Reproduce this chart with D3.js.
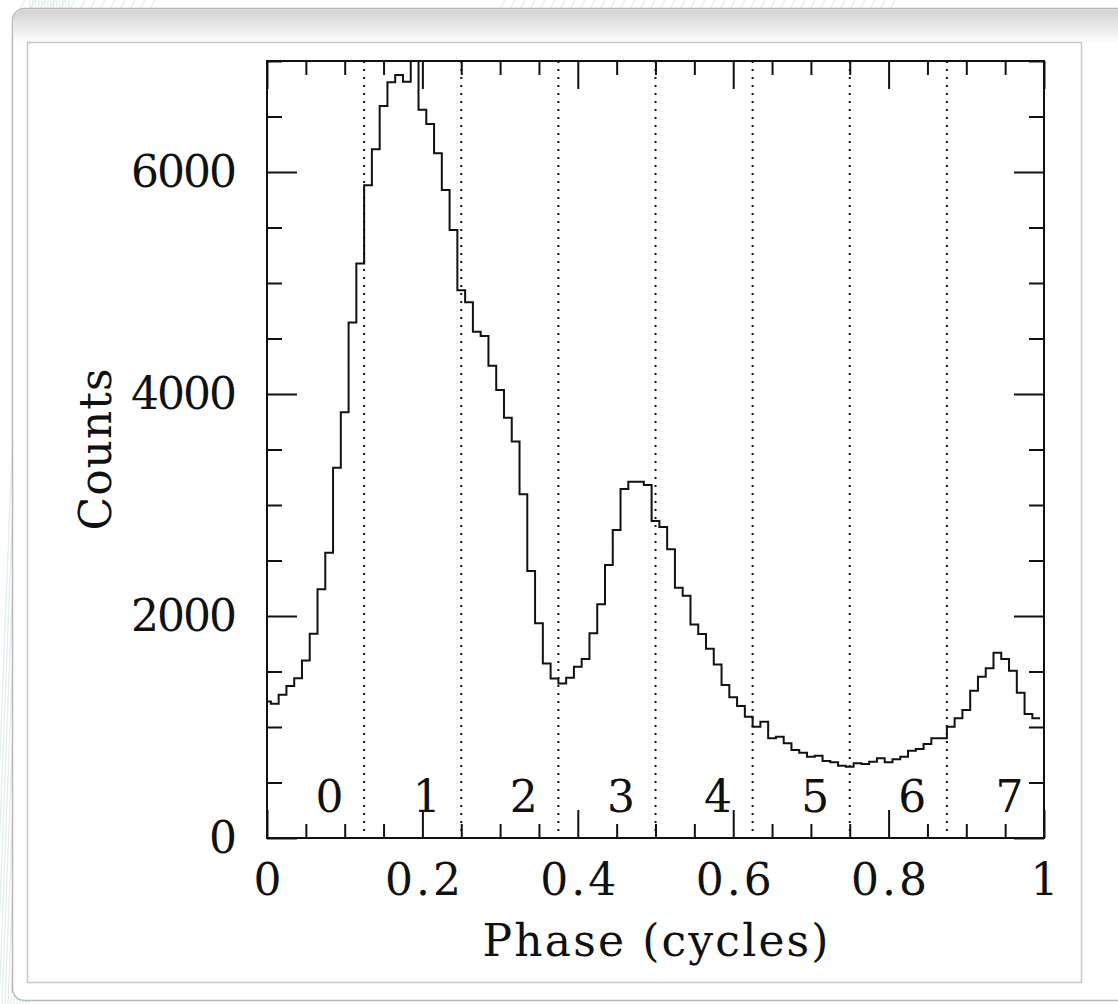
<!DOCTYPE html>
<html>
<head>
<meta charset="utf-8">
<script src="https://cdn.jsdelivr.net/npm/d3@7"></script>
<style>
  html, body { margin: 0; padding: 0; background: #ffffff; }
  svg { display: block; }
  text { font-family: "DejaVu Serif", "Liberation Serif", serif; fill: #111; }
</style>
</head>
<body>
<svg id="chart" width="1118" height="1004"></svg>
<script>
// ---- data ----
const binCenters = d3.range(100).map(i => i / 100);
const counts = [
  1230, 1210, 1290, 1370, 1440, 1600, 1840, 2240, 2570, 3335,
  3835, 4645, 5175, 5880, 6205, 6595, 6808, 6874, 6812, 7000,
  6560, 6433, 6168, 5838, 5477, 4935, 4826, 4561, 4522, 4255,
  4036, 3787, 3571, 3097, 2405, 1934, 1573, 1438, 1393, 1444,
  1543, 1613, 1844, 2106, 2459, 2775, 3144, 3210, 3210, 3180,
  2856, 2802, 2601, 2254, 2182, 1924, 1838, 1706, 1562, 1378,
  1268, 1190, 1093, 1003, 1048, 898, 913, 853, 793, 769,
  733, 742, 694, 682, 652, 643, 673, 667, 688, 718,
  682, 709, 733, 787, 802, 847, 898, 898, 1003, 1078,
  1153, 1327, 1453, 1529, 1670, 1613, 1507, 1309, 1117, 1078
];
const xTickValues = [0, 0.2, 0.4, 0.6, 0.8, 1];
const xTickLabels = ["0", "0.2", "0.4", "0.6", "0.8", "1"];
const xMinorValues = d3.range(0, 21).map(i => i * 0.05);
const yTickValues = [0, 2000, 4000, 6000];
const yTickLabels = ["0", "2000", "4000", "6000"];
const yMinorValues = d3.range(0, 15).map(i => i * 500);
const segmentBounds = [0.125, 0.25, 0.375, 0.5, 0.625, 0.75, 0.875];
const segmentLabels = ["0", "1", "2", "3", "4", "5", "6", "7"];
const segmentLabelPos = [0.0625, 0.1875, 0.3125, 0.4375, 0.5625, 0.6875, 0.8125, 0.9375];
const xTitle = "Phase (cycles)";
const yTitle = "Counts";

// ---- layout ----
const svg = d3.select("#chart");
const L = 267, R = 1044, T = 61, B = 838;
const x = d3.scaleLinear().domain([0, 1]).range([L, R]);
const y = d3.scaleLinear().domain([0, 7000]).range([B, T]);

// background decorations
const defs = svg.append("defs");
const grad = defs.append("linearGradient").attr("id", "topShade").attr("x1", 0).attr("y1", 0).attr("x2", 0).attr("y2", 1);
grad.append("stop").attr("offset", "0%").attr("stop-color", "#d2d2d2");
grad.append("stop").attr("offset", "100%").attr("stop-color", "#ffffff");
const stripes = svg.append("g").attr("stroke", "#e1efe8").attr("stroke-width", 1.2).attr("fill", "none");
for (let k = 0; k < 14; k++) {
  stripes.append("path").attr("d", `M${-10 + k * 3},${1004} Q${10 + k * 3},500 ${30 + k * 3},0`);
}
for (let k = 0; k < 40; k++) {
  stripes.append("line").attr("x1", 500 + k * 10).attr("y1", 9).attr("x2", 505 + k * 10).attr("y2", 0);
  if (k < 14) stripes.append("line").attr("x1", 20 + k * 10).attr("y1", 9).attr("x2", 25 + k * 10).attr("y2", 0);
}
svg.append("rect").attr("x", 12.5).attr("y", 8.5).attr("width", 1130).attr("height", 992)
  .attr("rx", 12).attr("fill", "#ffffff").attr("stroke", "#b9b9b9").attr("stroke-width", 1.5);
svg.append("rect").attr("x", 13.5).attr("y", 9.5).attr("width", 1128).attr("height", 34)
  .attr("rx", 11).attr("fill", "url(#topShade)");
svg.append("rect").attr("x", 27.5).attr("y", 42.5).attr("width", 1054).attr("height", 940)
  .attr("fill", "#ffffff").attr("stroke", "#c8c8c8").attr("stroke-width", 1.5);

// clip
defs.append("clipPath").attr("id", "plotClip").append("rect")
  .attr("x", L).attr("y", T).attr("width", R - L).attr("height", B - T);

// segment dotted lines
svg.append("g").selectAll("line").data(segmentBounds).join("line")
  .attr("x1", d => x(d)).attr("x2", d => x(d)).attr("y1", T).attr("y2", B)
  .attr("stroke", "#111").attr("stroke-width", 2).attr("stroke-dasharray", "2,6");

// histogram
const pts = binCenters.map((c, i) => [Math.max(0, c - 0.005), counts[i]]);
pts.push([binCenters[99] + 0.005, counts[99]]);
const line = d3.line().x(d => x(d[0])).y(d => y(d[1])).curve(d3.curveStepAfter);
svg.append("path").attr("d", line(pts)).attr("fill", "none").attr("stroke", "#111")
  .attr("stroke-width", 2).attr("clip-path", "url(#plotClip)");

// axes
function styleAxis(g) {
  g.select(".domain").remove();
  g.selectAll("line").attr("stroke", "#111").attr("stroke-width", 2);
  g.selectAll("text").attr("font-size", 44).attr("font-family", '"DejaVu Serif", serif').attr("fill", "#111");
}
const minorX = xMinorValues.filter(v => !xTickValues.some(t => Math.abs(t - v) < 1e-9));
const minorY = yMinorValues.filter(v => !yTickValues.some(t => Math.abs(t - v) < 1e-9));

svg.append("g").attr("transform", `translate(0,${B})`)
  .call(d3.axisBottom(x).tickValues(xTickValues).tickSize(-28).tickPadding(26)
    .tickFormat((d, i) => xTickLabels[i])).call(styleAxis)
  .call(g => g.selectAll("text").attr("letter-spacing", "3px").attr("dx", "1.5px"));
svg.append("g").attr("transform", `translate(0,${B})`)
  .call(d3.axisBottom(x).tickValues(minorX).tickSize(-14).tickFormat("")).call(styleAxis);
svg.append("g").attr("transform", `translate(0,${T})`)
  .call(d3.axisTop(x).tickValues(xTickValues).tickSize(-28).tickFormat("")).call(styleAxis);
svg.append("g").attr("transform", `translate(0,${T})`)
  .call(d3.axisTop(x).tickValues(minorX).tickSize(-14).tickFormat("")).call(styleAxis);

svg.append("g").attr("transform", `translate(${L},0)`)
  .call(d3.axisLeft(y).tickValues(yTickValues).tickSize(-30).tickPadding(34)
    .tickFormat((d, i) => yTickLabels[i])).call(styleAxis)
  .call(g => g.selectAll("text").attr("letter-spacing", "-2px").attr("dx", "2px"));
svg.append("g").attr("transform", `translate(${L},0)`)
  .call(d3.axisLeft(y).tickValues(minorY).tickSize(-15).tickFormat("")).call(styleAxis);
svg.append("g").attr("transform", `translate(${R},0)`)
  .call(d3.axisRight(y).tickValues(yTickValues).tickSize(-30).tickFormat("")).call(styleAxis);
svg.append("g").attr("transform", `translate(${R},0)`)
  .call(d3.axisRight(y).tickValues(minorY).tickSize(-15).tickFormat("")).call(styleAxis);

// frame
svg.append("rect").attr("x", L).attr("y", T).attr("width", R - L).attr("height", B - T)
  .attr("fill", "none").attr("stroke", "#111").attr("stroke-width", 2);

// segment labels
svg.append("g").selectAll("text").data(segmentLabels).join("text")
  .attr("x", (d, i) => x(segmentLabelPos[i]))
  .attr("y", 812)
  .attr("font-size", 44)
  .attr("text-anchor", "start")
  .text(d => d);

// titles
svg.append("text").attr("x", (L + R) / 2).attr("y", 956).attr("text-anchor", "middle")
  .attr("font-size", 44).attr("textLength", 346).attr("lengthAdjust", "spacing").text(xTitle);
svg.append("text").attr("transform", `translate(111,${(T + B) / 2}) rotate(-90)`)
  .attr("text-anchor", "middle").attr("font-size", 44).attr("textLength", 162)
  .attr("lengthAdjust", "spacing").text(yTitle);
</script>
</body>
</html>
